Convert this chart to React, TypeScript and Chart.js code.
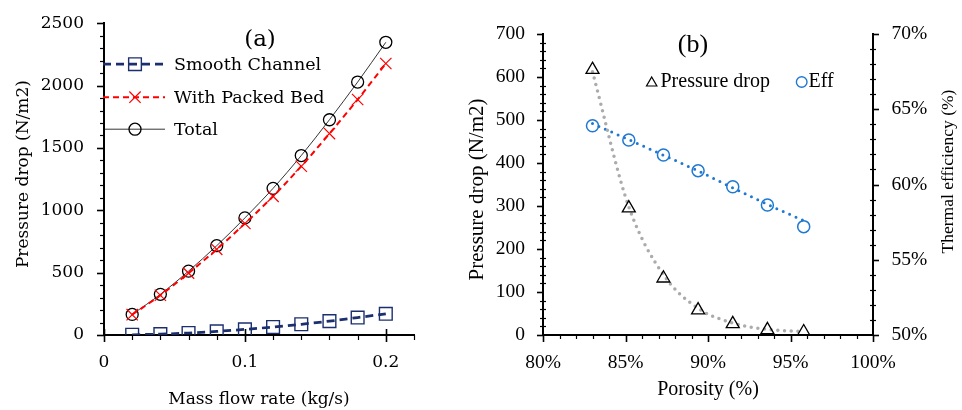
import React, { useEffect, useRef } from 'react';
import { Chart, registerables } from 'chart.js';
Chart.register(...registerables);

// ---------- Data (a) ----------
const massFlow = [0.02, 0.04, 0.06, 0.08, 0.1, 0.12, 0.14, 0.16, 0.18, 0.2];
const smoothChannel = [2, 7, 16, 29, 45, 64, 86, 111, 140, 170];
const packedBed = [163, 319, 496, 687, 894, 1112, 1353, 1615, 1888, 2177];
const totalDrop = [165, 326, 512, 716, 939, 1176, 1439, 1726, 2028, 2347];
const seriesNamesA = ['Smooth Channel', 'With Packed Bed', 'Total'];
const xTitleA = 'Mass flow rate (kg/s)';
const yTitleA = 'Pressure drop (N/m2)';
const panelA = '(a)';

// ---------- Data (b) ----------
const porosity = [83.0, 85.2, 87.3, 89.4, 91.5, 93.6, 95.8];
const pressureDrop = [617, 295, 132, 58, 26, 12, 7];
const efficiency = [63.9, 62.96, 61.96, 60.92, 59.85, 58.64, 57.2];
const pressureTrend = [612, 298, 140, 62, 28, 13, 8];
const efficiencyTrend = [64.05, 62.98, 61.95, 60.9, 59.78, 58.68, 57.6];
const seriesNamesB = ['Pressure drop', 'Eff'];
const xTitleB = 'Porosity (%)';
const yTitleB = 'Pressure drop (N/m2)';
const y2TitleB = 'Thermal efficiency (%)';
const panelB = '(b)';

const fontA = '"DejaVu Serif", serif';
const fontB = '"Liberation Serif", "Times New Roman", serif';

const NAVY = '#1B2F6E';
const RED = '#FF0000';
const BLUE = '#1F78D1';
const GRAY = '#ABABAB';

function pts(xs: number[], ys: number[]) {
  return xs.map((x, i) => ({ x, y: ys[i] }));
}

function drawMarker(ctx: CanvasRenderingContext2D, style: string, x: number, y: number, r: number, color: string, lw: number) {
  ctx.save();
  ctx.strokeStyle = color;
  ctx.lineWidth = lw;
  ctx.beginPath();
  if (style === 'rect') {
    const s = Math.SQRT1_2 * r;
    ctx.rect(x - s, y - s, 2 * s, 2 * s);
  } else if (style === 'crossRot') {
    const s = Math.SQRT1_2 * r;
    ctx.moveTo(x - s, y - s);
    ctx.lineTo(x + s, y + s);
    ctx.moveTo(x + s, y - s);
    ctx.lineTo(x - s, y + s);
  } else if (style === 'triangle') {
    ctx.moveTo(x, y - r);
    ctx.lineTo(x + r * 0.866, y + r * 0.5);
    ctx.lineTo(x - r * 0.866, y + r * 0.5);
    ctx.closePath();
  } else {
    ctx.arc(x, y, r, 0, Math.PI * 2);
  }
  ctx.stroke();
  ctx.restore();
}

type TickSpec = { id: string; minor: number; major: number; majOut: number; majIn: number; minOut: number; minIn: number };

const ticksPlugin = {
  id: 'minorTicks',
  afterDraw(chart: any, _a: any, opts: any) {
    const ctx: CanvasRenderingContext2D = chart.ctx;
    ctx.save();
    ctx.strokeStyle = '#000';
    for (const s of (opts.specs || []) as TickSpec[]) {
      const sc = chart.scales[s.id];
      const n = Math.round((sc.max - sc.min) / s.minor);
      for (let i = 0; i <= n; i++) {
        const v = sc.min + i * s.minor;
        const isMajor = Math.abs(v / s.major - Math.round(v / s.major)) < 1e-6;
        const out = isMajor ? s.majOut : s.minOut;
        const inn = isMajor ? s.majIn : s.minIn;
        ctx.lineWidth = isMajor ? 1.6 : 1.2;
        const p = Math.round(sc.getPixelForValue(v)) + 0.5;
        ctx.beginPath();
        if (sc.position === 'bottom') {
          const y = sc.top;
          ctx.moveTo(p, y - inn);
          ctx.lineTo(p, y + out);
        } else if (sc.position === 'left') {
          const x = sc.right;
          ctx.moveTo(x + inn, p);
          ctx.lineTo(x - out, p);
        } else {
          const x = sc.left;
          ctx.moveTo(x - inn, p);
          ctx.lineTo(x + out, p);
        }
        ctx.stroke();
      }
    }
    ctx.restore();
  },
};

function axisOpts(font: string, size: number, padding: number) {
  return {
    ticks: { padding, color: '#000', font: { family: font, size }, maxRotation: 0, autoSkip: false },
    grid: { display: false, drawTicks: true, tickLength: 7 },
    border: { display: true, color: '#000', width: 2 },
  };
}

const annotA = {
  id: 'annotA',
  afterDraw(chart: any) {
    const ctx: CanvasRenderingContext2D = chart.ctx;
    const ca = chart.chartArea;
    ctx.save();
    ctx.fillStyle = '#000';
    ctx.textBaseline = 'middle';
    ctx.textAlign = 'center';
    ctx.font = `17px ${fontA}`;
    ctx.fillText(xTitleA, (ca.left + ca.right) / 2, ca.bottom + 65);
    ctx.save();
    ctx.translate(24, (ca.top + ca.bottom) / 2 - 5);
    ctx.rotate(-Math.PI / 2);
    ctx.fillText(yTitleA, 0, 0);
    ctx.restore();
    ctx.font = `23px ${fontA}`;
    ctx.fillText(panelA, ca.left + 156, ca.top + 17);
    // legend
    ctx.font = `17.5px ${fontA}`;
    ctx.textAlign = 'left';
    const rows = [41, 74, 106];
    chart.data.datasets.forEach((ds: any, i: number) => {
      const y = ca.top + rows[i];
      ctx.save();
      ctx.strokeStyle = ds.borderColor;
      ctx.lineWidth = ds.borderWidth;
      ctx.setLineDash(ds.borderDash || []);
      ctx.beginPath();
      ctx.moveTo(ca.left - 1, y);
      ctx.lineTo(ca.left + 61, y);
      ctx.stroke();
      ctx.restore();
      drawMarker(ctx, ds.pointStyle, ca.left + 31, y, ds.pointRadius, ds.pointBorderColor, ds.pointBorderWidth);
      ctx.fillText(ds.label, ca.left + 70, y + 1);
    });
    ctx.restore();
  },
};

const annotB = {
  id: 'annotB',
  afterDraw(chart: any) {
    const ctx: CanvasRenderingContext2D = chart.ctx;
    const ca = chart.chartArea;
    ctx.save();
    ctx.fillStyle = '#000';
    ctx.textBaseline = 'middle';
    ctx.textAlign = 'center';
    ctx.font = `20px ${fontB}`;
    ctx.fillText(xTitleB, (ca.left + ca.right) / 2, ca.bottom + 55);
    ctx.save();
    ctx.translate(17, (ca.top + ca.bottom) / 2 + 5);
    ctx.rotate(-Math.PI / 2);
    ctx.font = `21px ${fontB}`;
    ctx.fillText(yTitleB, 0, 0);
    ctx.restore();
    ctx.save();
    ctx.translate(ca.right + 75, (ca.top + ca.bottom) / 2 - 13);
    ctx.rotate(-Math.PI / 2);
    ctx.font = `17.5px ${fontB}`;
    ctx.fillText(y2TitleB, 0, 0);
    ctx.restore();
    ctx.font = `26px ${fontB}`;
    ctx.fillText(panelB, ca.left + 150, ca.top + 11);
    // legend
    ctx.font = `20px ${fontB}`;
    ctx.textAlign = 'left';
    const ly = ca.top + 48;
    drawMarker(ctx, 'triangle', ca.left + 108.7, ly + 1, 6, '#000', 1.2);
    ctx.fillText(seriesNamesB[0], ca.left + 117.5, ly);
    drawMarker(ctx, 'circle', ca.left + 258.7, ly, 5.3, BLUE, 1.4);
    ctx.fillText(seriesNamesB[1], ca.left + 265.5, ly);
    ctx.restore();
  },
};

function ChartA() {
  const ref = useRef<HTMLCanvasElement>(null);
  useEffect(() => {
    const ax = axisOpts(fontA, 17, 10);
    const ay = axisOpts(fontA, 17, 13);
    const chart = new Chart(ref.current as HTMLCanvasElement, {
      type: 'scatter',
      data: {
        datasets: [
          {
            label: seriesNamesA[0],
            data: pts(massFlow, smoothChannel),
            showLine: true,
            borderColor: NAVY,
            borderWidth: 2.75,
            borderDash: [8, 5],
            cubicInterpolationMode: 'monotone',
            pointStyle: 'rect',
            pointRadius: 9,
            pointBorderColor: NAVY,
            pointBorderWidth: 1.4,
            pointBackgroundColor: 'rgba(0,0,0,0)',
          },
          {
            label: seriesNamesA[1],
            data: pts(massFlow, packedBed),
            showLine: true,
            borderColor: RED,
            borderWidth: 2,
            borderDash: [6, 4],
            cubicInterpolationMode: 'monotone',
            pointStyle: 'crossRot',
            pointRadius: 8,
            pointBorderColor: RED,
            pointBorderWidth: 1.2,
            pointBackgroundColor: 'rgba(0,0,0,0)',
          },
          {
            label: seriesNamesA[2],
            data: pts(massFlow, totalDrop),
            showLine: true,
            borderColor: '#000',
            borderWidth: 0.8,
            cubicInterpolationMode: 'monotone',
            pointStyle: 'circle',
            pointRadius: 6,
            pointBorderColor: '#000',
            pointBorderWidth: 1.3,
            pointBackgroundColor: 'rgba(0,0,0,0)',
          },
        ],
      } as any,
      options: {
        animation: false,
        responsive: true,
        maintainAspectRatio: false,
        layout: { padding: { top: 21, right: 46, left: 0, bottom: 0 } },
        plugins: {
          legend: { display: false },
          tooltip: { enabled: false },
          minorTicks: {
            specs: [
              { id: 'x', minor: 0.02, major: 0.1, majOut: 7, majIn: 6, minOut: 5, minIn: 0 },
              { id: 'y', minor: 100, major: 500, majOut: 7, majIn: 0, minOut: 4, minIn: 0 },
            ],
          },
        } as any,
        scales: {
          x: {
            type: 'linear',
            position: 'bottom',
            min: 0,
            max: 0.22,
            ...ax,
            ticks: { ...ax.ticks, stepSize: 0.1, includeBounds: false, callback: (v: any) => String(Math.round(Number(v) * 10) / 10) },
            afterFit: (s: any) => { s.height = 75; },
          },
          y: {
            type: 'linear',
            position: 'left',
            min: 0,
            max: 2500,
            ...ay,
            ticks: { ...ay.ticks, stepSize: 500, callback: (v: any) => String(v) },
            afterFit: (s: any) => { s.width = 104; },
          },
        } as any,
      },
      plugins: [ticksPlugin, annotA],
    });
    return () => chart.destroy();
  }, []);
  return <canvas ref={ref} />;
}

function ChartB() {
  const ref = useRef<HTMLCanvasElement>(null);
  useEffect(() => {
    const ax = axisOpts(fontB, 19.5, 9);
    const ay = axisOpts(fontB, 19.5, 11);
    const ay2 = axisOpts(fontB, 19.5, 11.5);
    const chart = new Chart(ref.current as HTMLCanvasElement, {
      type: 'scatter',
      data: {
        datasets: [
          {
            label: seriesNamesB[0],
            data: pts(porosity, pressureDrop),
            yAxisID: 'y',
            showLine: false,
            pointStyle: 'triangle',
            pointRadius: 7.5,
            pointBorderColor: '#000',
            pointBorderWidth: 1.3,
            pointBackgroundColor: 'rgba(0,0,0,0)',
          },
          {
            label: seriesNamesB[1],
            data: pts(porosity, efficiency),
            yAxisID: 'y2',
            showLine: false,
            pointStyle: 'circle',
            pointRadius: 6,
            pointBorderColor: BLUE,
            pointBorderWidth: 1.5,
            pointBackgroundColor: 'rgba(0,0,0,0)',
          },
          {
            label: 'Pressure trend',
            data: pts(porosity, pressureTrend),
            yAxisID: 'y',
            showLine: true,
            borderColor: GRAY,
            borderWidth: 3.5,
            borderDash: [0, 6.7],
            borderCapStyle: 'round',
            cubicInterpolationMode: 'monotone',
            pointRadius: 0,
          },
          {
            label: 'Eff trend',
            data: pts(porosity, efficiencyTrend),
            yAxisID: 'y2',
            showLine: true,
            borderColor: BLUE,
            borderWidth: 3,
            borderDash: [0, 7],
            borderCapStyle: 'round',
            cubicInterpolationMode: 'monotone',
            pointRadius: 0,
          },
        ],
      } as any,
      options: {
        animation: false,
        responsive: true,
        maintainAspectRatio: false,
        layout: { padding: { top: 34, right: 0, left: 0, bottom: 0 } },
        plugins: {
          legend: { display: false },
          tooltip: { enabled: false },
          minorTicks: {
            specs: [
              { id: 'x', minor: 1, major: 5, majOut: 7, majIn: 0, minOut: 4, minIn: 1 },
              { id: 'y', minor: 20, major: 100, majOut: 6, majIn: 0, minOut: 3, minIn: 3 },
              { id: 'y2', minor: 1, major: 5, majOut: 6, majIn: 0, minOut: 3, minIn: 3 },
            ],
          },
        } as any,
        scales: {
          x: {
            type: 'linear',
            position: 'bottom',
            min: 80,
            max: 100,
            ...ax,
            ticks: { ...ax.ticks, stepSize: 5, callback: (v: any) => `${v}%` },
            afterFit: (s: any) => { s.height = 75; },
          },
          y: {
            type: 'linear',
            position: 'left',
            min: 0,
            max: 700,
            ...ay,
            ticks: { ...ay.ticks, stepSize: 100, callback: (v: any) => String(v) },
            afterFit: (s: any) => { s.width = 83; },
          },
          y2: {
            type: 'linear',
            position: 'right',
            min: 50,
            max: 70,
            ...ay2,
            ticks: { ...ay2.ticks, stepSize: 5, callback: (v: any) => `${v}%` },
            afterFit: (s: any) => { s.width = 89; },
          },
        } as any,
      },
      plugins: [ticksPlugin, annotB],
    });
    return () => chart.destroy();
  }, []);
  return <canvas ref={ref} />;
}

export default function App() {
  return (
    <div style={{ position: 'absolute', left: 0, top: 0, width: 962, height: 410, background: '#fff', overflow: 'hidden' }}>
      <div style={{ position: 'absolute', left: 0, top: 0, width: 460, height: 410 }}>
        <ChartA />
      </div>
      <div style={{ position: 'absolute', left: 460, top: 0, width: 502, height: 410 }}>
        <ChartB />
      </div>
    </div>
  );
}
